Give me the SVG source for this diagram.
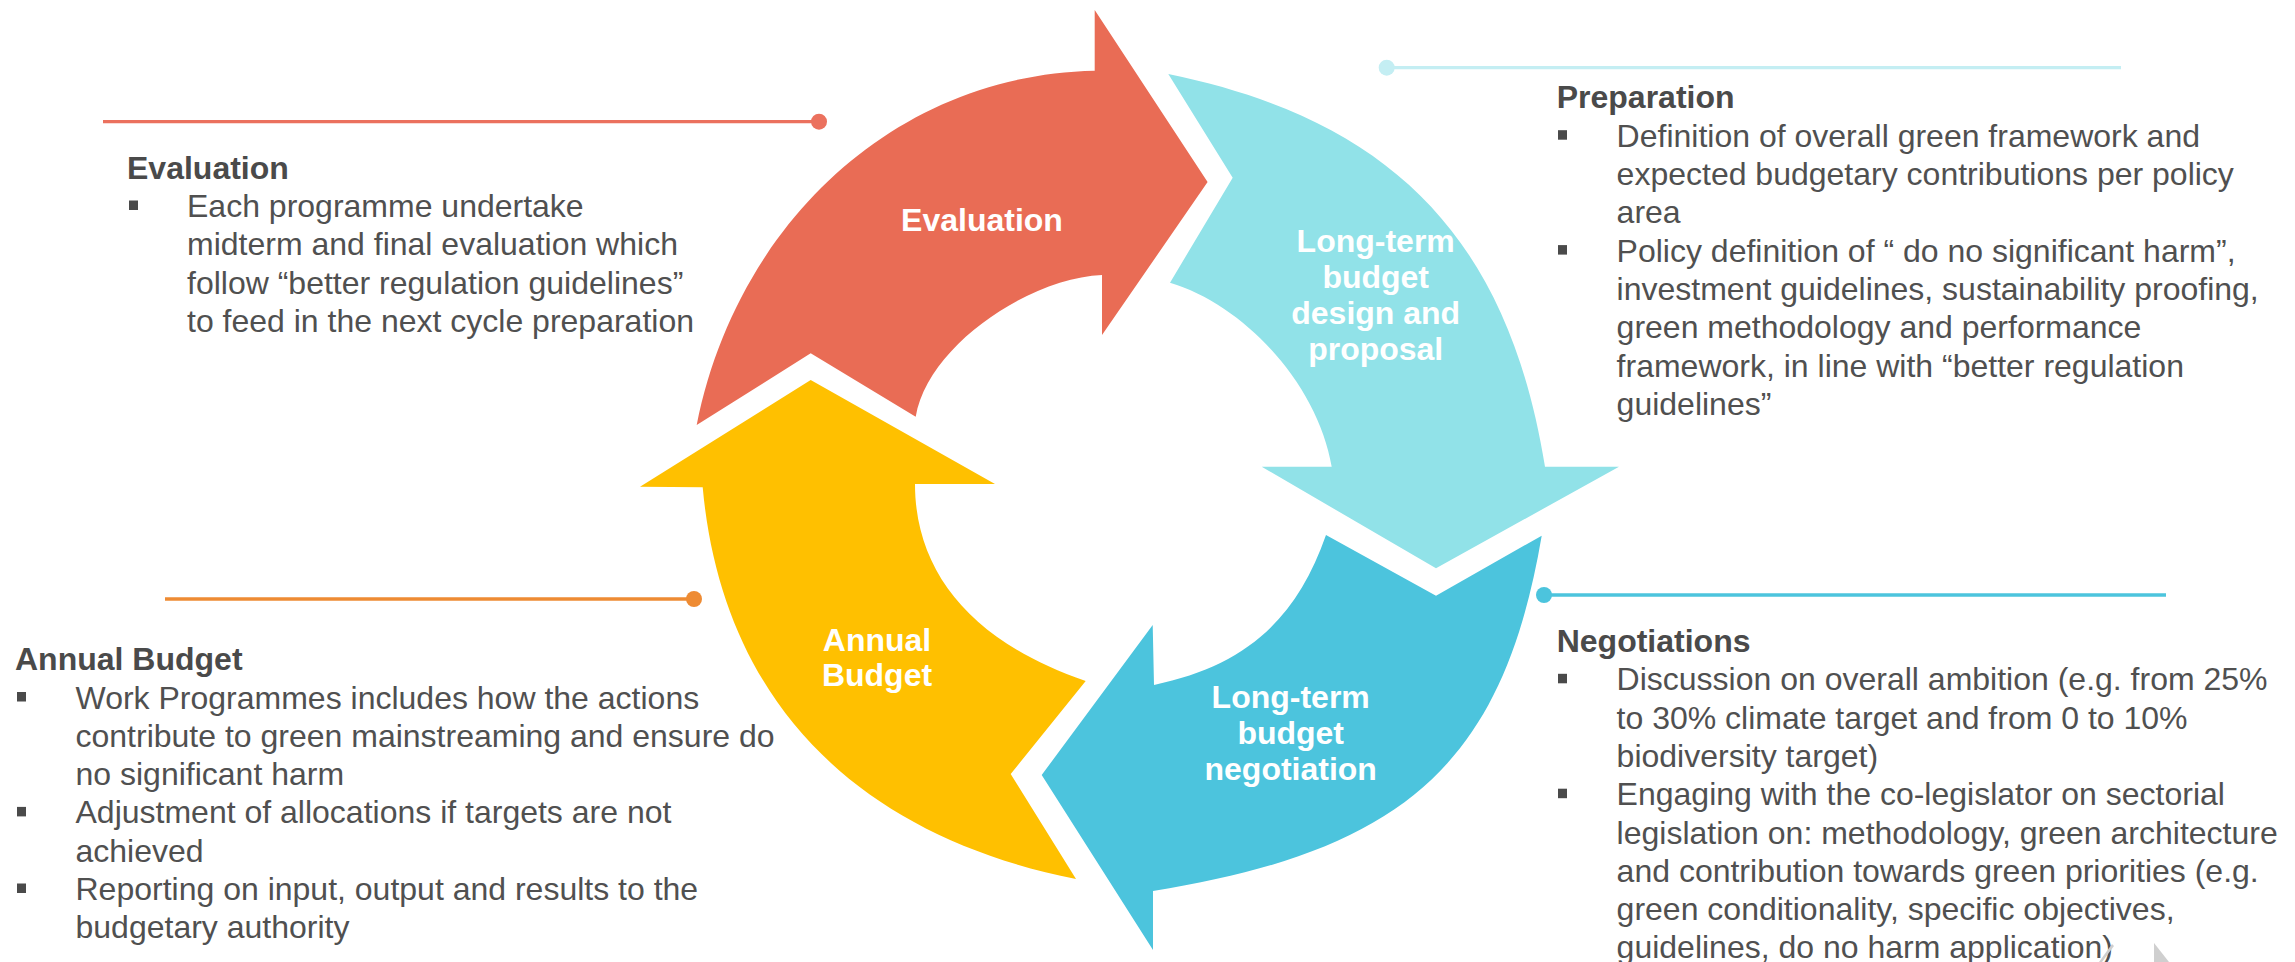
<svg xmlns="http://www.w3.org/2000/svg" width="2295" height="962" viewBox="0 0 2295 962">
<style>
.body{font-family:"Liberation Sans",Arial,sans-serif;font-size:32px;fill:#505050}
.title{font-family:"Liberation Sans",Arial,sans-serif;font-size:32px;font-weight:bold;fill:#4a4a4a}
.lbl{font-family:"Liberation Sans",Arial,sans-serif;font-size:32px;font-weight:bold;fill:#ffffff;text-anchor:middle}
.bul{fill:#4a4a4a}
.ln{stroke-width:3.3;fill:none}
</style>
<rect width="2295" height="962" fill="#ffffff"/>
<g id="connectors">
  <line class="ln" x1="103" y1="121.7" x2="819" y2="121.7" stroke="#EB715E"/>
  <circle cx="819" cy="121.7" r="8" fill="#EB715E"/>
  <line class="ln" x1="1386.7" y1="67.7" x2="2121" y2="67.7" stroke="#C4EEF3"/>
  <circle cx="1386.7" cy="67.7" r="8" fill="#C4EEF3"/>
  <line class="ln" x1="165" y1="599" x2="694" y2="599" stroke="#EE8B33"/>
  <circle cx="694" cy="599" r="8" fill="#EE8B33"/>
  <line class="ln" x1="1544" y1="595" x2="2166" y2="595" stroke="#4CC4DD"/>
  <circle cx="1544" cy="595" r="8" fill="#4CC4DD"/>
</g>
<g id="node-evaluation">
  <path d="M696.7,425 C735,230 890,75 1094.7,70.7 L1094.7,10 L1207.6,182 L1102,335 L1102,275 C1030,278 928,345 915.7,416.7 L810.7,353.3 Z" fill="#E96C55"/>
  <text class="lbl" x="982" y="230.7">Evaluation</text>
</g>
<g id="node-design">
  <path d="M1168.3,74 C1390.6,119.6 1508,237.4 1545,466.7 L1619,466.7 L1436,568.3 L1261.7,466.7 L1331.7,466.7 C1318,385 1245,305 1170,282.7 L1232.7,177.7 Z" fill="#91E2E8"/>
  <text class="lbl" x="1375.7" y="251.7">Long-term</text>
  <text class="lbl" x="1375.7" y="287.5">budget</text>
  <text class="lbl" x="1375.7" y="324">design and</text>
  <text class="lbl" x="1375.7" y="360">proposal</text>
</g>
<g id="node-negotiation">
  <path d="M1541.7,535.7 C1503.3,761.7 1406.1,850.5 1153,891 L1153,950 L1041.7,775 L1152.7,625 L1154,685 C1244.3,666 1295.9,621 1326,535 L1436,595.7 Z" fill="#4CC4DD"/>
  <text class="lbl" x="1290.7" y="707.7">Long-term</text>
  <text class="lbl" x="1290.7" y="743.5">budget</text>
  <text class="lbl" x="1290.7" y="780">negotiation</text>
</g>
<g id="node-annual">
  <path d="M702.7,487.3 C721.7,697 852.3,834.3 1076,879 L1010.7,774 L1085.7,681 C974.7,643.3 915,574.4 915,484 L995,484 L810.7,380 L640,486.7 Z" fill="#FFC000"/>
  <text class="lbl" x="877" y="650.7">Annual</text>
  <text class="lbl" x="877" y="686">Budget</text>
</g>
<g id="text-evaluation">
  <text class="title" x="127" y="178.5">Evaluation</text>
  <rect class="bul" x="129" y="200.5" width="9" height="9.5"/>
  <text class="body" x="187" y="216.9">Each programme undertake</text>
  <text class="body" x="187" y="255.2">midterm and final evaluation which</text>
  <text class="body" x="187" y="293.5">follow “better regulation guidelines”</text>
  <text class="body" x="187" y="331.8">to feed in the next cycle preparation</text>
</g>
<g id="text-preparation">
  <text class="title" x="1556.7" y="108.3">Preparation</text>
  <rect class="bul" x="1558" y="130.2" width="9" height="9.5"/>
  <text class="body" x="1616.6" y="146.7">Definition of overall green framework and</text>
  <text class="body" x="1616.6" y="185">expected budgetary contributions per policy</text>
  <text class="body" x="1616.6" y="223.3">area</text>
  <rect class="bul" x="1558" y="245.1" width="9" height="9.5"/>
  <text class="body" x="1616.6" y="261.6">Policy definition of “ do no significant harm”,</text>
  <text class="body" x="1616.6" y="299.9">investment guidelines, sustainability proofing,</text>
  <text class="body" x="1616.6" y="338.2">green methodology and performance</text>
  <text class="body" x="1616.6" y="376.5">framework, in line with “better regulation</text>
  <text class="body" x="1616.6" y="414.8">guidelines”</text>
</g>
<g id="text-annual">
  <text class="title" x="15" y="670">Annual Budget</text>
  <rect class="bul" x="17" y="692" width="9" height="9.5"/>
  <text class="body" x="75.5" y="708.5">Work Programmes includes how the actions</text>
  <text class="body" x="75.5" y="746.8">contribute to green mainstreaming and ensure do</text>
  <text class="body" x="75.5" y="785.1">no significant harm</text>
  <rect class="bul" x="17" y="806.9" width="9" height="9.5"/>
  <text class="body" x="75.5" y="823.4">Adjustment of allocations if targets are not</text>
  <text class="body" x="75.5" y="861.7">achieved</text>
  <rect class="bul" x="17" y="883.5" width="9" height="9.5"/>
  <text class="body" x="75.5" y="900">Reporting on input, output and results to the</text>
  <text class="body" x="75.5" y="938.3">budgetary authority</text>
</g>
<g id="text-negotiations">
  <text class="title" x="1556.7" y="651.7">Negotiations</text>
  <rect class="bul" x="1558" y="673.8" width="9" height="9.5"/>
  <text class="body" x="1616.6" y="690.3">Discussion on overall ambition (e.g. from 25%</text>
  <text class="body" x="1616.6" y="728.6">to 30% climate target and from 0 to 10%</text>
  <text class="body" x="1616.6" y="766.9">biodiversity target)</text>
  <rect class="bul" x="1558" y="788.7" width="9" height="9.5"/>
  <text class="body" x="1616.6" y="805.2">Engaging with the co-legislator on sectorial</text>
  <text class="body" x="1616.6" y="843.5">legislation on: methodology, green architecture</text>
  <text class="body" x="1616.6" y="881.8">and contribution towards green priorities (e.g.</text>
  <text class="body" x="1616.6" y="920.1">green conditionality, specific objectives,</text>
  <text class="body" x="1616.6" y="958.4">guidelines, do no harm application)</text>
</g>
<g id="watermark" fill="#cfcfcf">
  <polygon points="2154,943 2169,962 2154,962"/>
  <polygon points="2112,944 2114,946 2102,962 2099,962"/>
</g>
</svg>
